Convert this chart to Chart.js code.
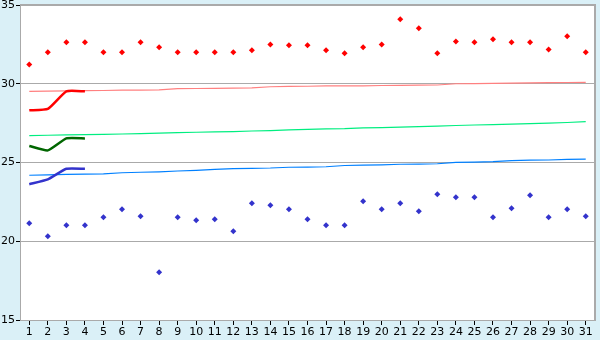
<!DOCTYPE html>
<html>
<head>
<meta charset="utf-8">
<script src="https://cdn.jsdelivr.net/npm/chart.js@4"></script>
<style>
  html, body { margin: 0; padding: 0; background: #daf0f7; }
  canvas { display: block; }
</style>
</head>
<body>
<canvas id="chart" width="600" height="340"></canvas>
<script>
// days of the month
const days = ['1','2','3','4','5','6','7','8','9','10','11','12','13','14','15','16',
  '17','18','19','20','21','22','23','24','25','26','27','28','29','30','31'];

// daily points
const upperPoints = [31.23, 32.0, 32.63, 32.63, 32.0, 32.0, 32.63, 32.31, 32.0, 32.0,
  32.0, 32.0, 32.12, 32.5, 32.44, 32.44, 32.12, 31.93, 32.31, 32.5, 34.09,
  33.52, 31.93, 32.69, 32.63, 32.82, 32.63, 32.63, 32.18, 33.01, 32.0];
const lowerPoints = [21.14, 20.31, 21.01, 21.01, 21.52, 22.03, 21.58, 18.03, 21.52, 21.33,
  21.39, 20.63, 22.41, 22.28, 22.03, 21.39, 21.01, 21.01, 22.54, 22.03, 22.41,
  21.9, 22.98, 22.79, 22.79, 21.52, 22.09, 22.92, 21.52, 22.03, 21.58];

// long trend lines
const upperTrend = [29.52, 29.53, 29.55, 29.56, 29.57, 29.59, 29.6, 29.61, 29.69, 29.7,
  29.71, 29.72, 29.74, 29.81, 29.83, 29.84, 29.86, 29.86, 29.87, 29.89, 29.9,
  29.91, 29.92, 30.0, 30.01, 30.03, 30.04, 30.05, 30.07, 30.08, 30.09];
const middleTrend = [26.71, 26.73, 26.75, 26.77, 26.79, 26.81, 26.83, 26.87, 26.9, 26.92,
  26.94, 26.96, 27.0, 27.03, 27.07, 27.1, 27.13, 27.15, 27.2, 27.22, 27.25,
  27.28, 27.31, 27.35, 27.38, 27.41, 27.44, 27.47, 27.5, 27.54, 27.6];
const lowerTrend = [24.19, 24.22, 24.25, 24.26, 24.28, 24.35, 24.38, 24.41, 24.46, 24.5,
  24.56, 24.61, 24.63, 24.65, 24.7, 24.71, 24.73, 24.81, 24.83, 24.85, 24.89,
  24.9, 24.92, 25.01, 25.03, 25.05, 25.12, 25.15, 25.16, 25.2, 25.22];

// short current lines (first four days)
const upperCurrent = [28.31, 28.4, 29.52, 29.52];
const middleCurrent = [26.05, 25.77, 26.53, 26.53];
const lowerCurrent = [23.62, 23.93, 24.6, 24.6];

const yTicks = [15, 20, 25, 30, 35];

const frameColor = '#aaaaaa';
const fontSpec = { family: "'DejaVu Sans', sans-serif", size: 11 };

// background + plot frame
const framePlugin = {
  id: 'frame',
  beforeDraw(chart) {
    const { ctx, chartArea: a } = chart;
    ctx.save();
    ctx.fillStyle = '#daf0f7';
    ctx.fillRect(0, 0, chart.width, chart.height);
    ctx.fillStyle = '#ffffff';
    ctx.fillRect(a.left, a.top, a.right - a.left, a.bottom - a.top);
    ctx.restore();
  },
  beforeDatasetsDraw(chart) {
    const { ctx, chartArea: a } = chart;
    ctx.save();
    ctx.strokeStyle = frameColor;
    ctx.lineWidth = 2;
    ctx.beginPath();
    ctx.moveTo(a.left, a.top);
    ctx.lineTo(a.right, a.top);
    ctx.lineTo(a.right, a.bottom);
    ctx.stroke();
    ctx.restore();
  }
};

function pointSet(data, color) {
  return {
    data, showLine: false, order: 0,
    pointStyle: 'rectRot', pointRadius: 3,
    backgroundColor: color, borderColor: color, borderWidth: 0
  };
}
function trendSet(data, color) {
  return {
    data, order: 2, borderColor: color, borderWidth: 1.2,
    pointRadius: 0, tension: 0
  };
}
function currentSet(data, color) {
  return {
    data, order: 1, borderColor: color, borderWidth: 2.5,
    pointRadius: 0, tension: 0.15
  };
}

new Chart(document.getElementById('chart'), {
  type: 'line',
  data: {
    labels: days,
    datasets: [
      pointSet(upperPoints, '#ff0000'),
      pointSet(lowerPoints, '#3333cc'),
      currentSet(upperCurrent, '#ff0000'),
      currentSet(middleCurrent, '#006600'),
      currentSet(lowerCurrent, '#3333cc'),
      trendSet(upperTrend, '#ff8080'),
      trendSet(middleTrend, '#00ee80'),
      trendSet(lowerTrend, '#0080ff')
    ]
  },
  options: {
    responsive: false,
    animation: false,
    layout: { padding: { top: 5, right: 5, left: 0, bottom: 0 } },
    plugins: { legend: { display: false }, tooltip: { enabled: false } },
    scales: {
      x: {
        offset: true,
        grid: { drawOnChartArea: false, drawTicks: true, tickLength: 5, color: '#000000', offset: false },
        border: { color: frameColor, width: 1 },
        ticks: { color: '#000000', font: fontSpec, padding: 1, autoSkip: false, maxRotation: 0 },
        afterFit(scale) { scale.height = 20; scale.paddingLeft = 0; scale.paddingRight = 0; }
      },
      y: {
        min: 15,
        max: 35,
        afterBuildTicks(scale) { scale.ticks = yTicks.map(v => ({ value: v })); },
        grid: { color: frameColor, tickLength: 4, tickColor: '#000000' },
        border: { color: frameColor, width: 1 },
        ticks: { color: '#000000', font: fontSpec, padding: 1 },
        afterFit(scale) { scale.width = 20; scale.paddingTop = 0; scale.paddingBottom = 0; }
      }
    }
  },
  plugins: [framePlugin]
});
</script>
</body>
</html>
